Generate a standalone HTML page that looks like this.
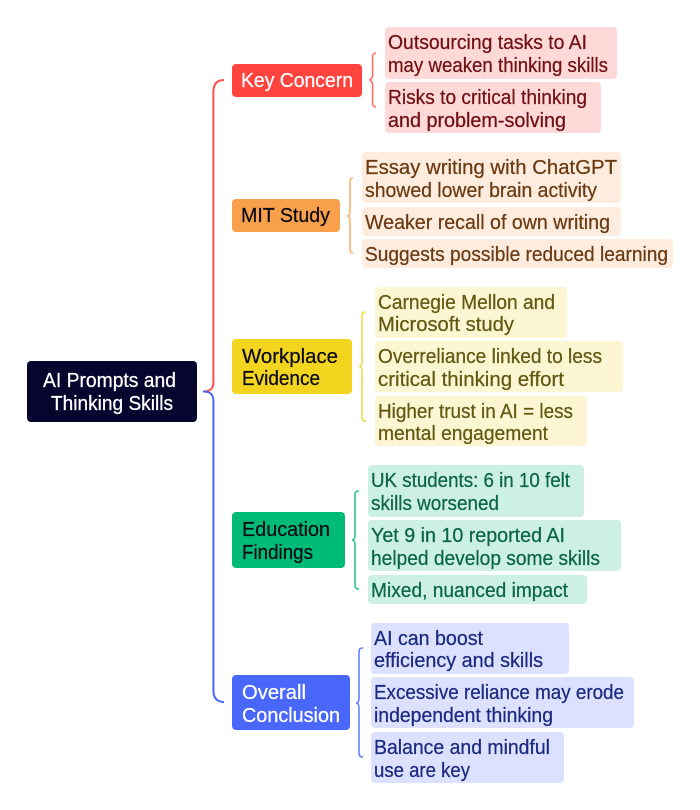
<!DOCTYPE html>
<html>
<head>
<meta charset="utf-8">
<style>
html,body{margin:0;padding:0;background:#fff;width:700px;height:810px;overflow:hidden}
svg{display:block}
text{font-family:"Liberation Sans",sans-serif;font-size:20px;stroke-width:.25px;paint-order:stroke}
.w{fill:#fff;stroke:#fff}.k{fill:#0a0a14;stroke:#0a0a14}
.r{fill:#6f1013;stroke:#6f1013}.o{fill:#6b3a12;stroke:#6b3a12}.y{fill:#635812;stroke:#635812}.g{fill:#0c6448;stroke:#0c6448}.b{fill:#1b2a80;stroke:#1b2a80}
path{fill:none;stroke-width:1.6}
path.t{stroke-width:2}
</style>
</head>
<body>
<svg width="700" height="810" viewBox="0 0 700 810" xmlns="http://www.w3.org/2000/svg">
<rect width="700" height="810" fill="#fff"/>

<!-- trunk connectors -->
<path class="t" d="M203 391.5 C210 391.5 213.4 389 213.4 382 V92 C213.4 84 217 80 224 80" stroke="#ff4f49"/>
<path class="t" d="M203 391.5 C210 391.5 213.4 394 213.4 401 V690 C213.4 698 217 702 224 702" stroke="#4a67fb"/>

<!-- brackets -->
<path d="M376 53 C373.500 53 372.600 54 372.600 57 V75 C372.600 78 371 80 369 80 C371 80 372.600 82 372.600 85 V103 C372.600 106 373.500 107 376 107" stroke="#ff6e69"/>
<path d="M353 178 C351 178 350 179 350 182 V211 C350 214 349 216 347 216 C349 216 350 218 350 221 V249 C350 252 351 253 353 253" stroke="#fab06c"/>
<path d="M366 312 C363 312 362 313 362 316 V361 C362 364 361 366 359 366 C361 366 362 368 362 371 V417 C362 420 363 421 366 421" stroke="#f5da48"/>
<path d="M359 491 C356 491 355 492 355 495 V535 C355 538 354 540 352 540 C354 540 355 542 355 545 V585 C355 588 356 589 359 589" stroke="#30c693"/>
<path d="M363 648 C360 648 359 649 359 652 V698 C359 701 358 703 356 703 C358 703 359 705 359 708 V753 C359 756 360 757 363 757" stroke="#6880fb"/>

<!-- root -->
<rect x="27" y="361" width="170" height="61" rx="4" fill="#05052e"/>
<text class="w" x="43" y="387" textLength="133" lengthAdjust="spacingAndGlyphs">AI Prompts and</text>
<text class="w" x="51" y="410" textLength="122" lengthAdjust="spacingAndGlyphs">Thinking Skills</text>

<!-- branches -->
<rect x="232" y="64" width="130" height="33" rx="4" fill="#ff443d"/>
<text class="w" x="241" y="87" textLength="112" lengthAdjust="spacingAndGlyphs">Key Concern</text>

<rect x="232" y="199" width="108" height="33" rx="4" fill="#f9a04c"/>
<text class="k" x="241" y="222" textLength="89" lengthAdjust="spacingAndGlyphs">MIT Study</text>

<rect x="232" y="339" width="120" height="55" rx="4" fill="#f3d41f"/>
<text class="k" x="242" y="363" textLength="96" lengthAdjust="spacingAndGlyphs">Workplace</text>
<text class="k" x="242" y="385" textLength="78" lengthAdjust="spacingAndGlyphs">Evidence</text>

<rect x="232" y="512" width="113" height="56" rx="4" fill="#00bb77"/>
<text class="k" x="242" y="536" textLength="88" lengthAdjust="spacingAndGlyphs">Education</text>
<text class="k" x="242" y="559" textLength="71" lengthAdjust="spacingAndGlyphs">Findings</text>

<rect x="232" y="675" width="118" height="55" rx="4" fill="#4a67fb"/>
<text class="w" x="242" y="699" textLength="64" lengthAdjust="spacingAndGlyphs">Overall</text>
<text class="w" x="242" y="722" textLength="98" lengthAdjust="spacingAndGlyphs">Conclusion</text>

<!-- red leaves -->
<rect x="385" y="27" width="232" height="52" rx="4" fill="#ffd9d8"/>
<text class="r" x="388" y="49" textLength="199" lengthAdjust="spacingAndGlyphs">Outsourcing tasks to AI</text>
<text class="r" x="388" y="72" textLength="220" lengthAdjust="spacingAndGlyphs">may weaken thinking skills</text>
<rect x="385" y="82" width="216" height="51" rx="4" fill="#ffd9d8"/>
<text class="r" x="388" y="104" textLength="199" lengthAdjust="spacingAndGlyphs">Risks to critical thinking</text>
<text class="r" x="388" y="127" textLength="178" lengthAdjust="spacingAndGlyphs">and problem-solving</text>

<!-- orange leaves -->
<rect x="362" y="152" width="259" height="51" rx="4" fill="#feedde"/>
<text class="o" x="365" y="174" textLength="252" lengthAdjust="spacingAndGlyphs">Essay writing with ChatGPT</text>
<text class="o" x="365" y="197" textLength="232" lengthAdjust="spacingAndGlyphs">showed lower brain activity</text>
<rect x="362" y="207" width="259" height="29" rx="4" fill="#feedde"/>
<text class="o" x="365" y="229" textLength="245" lengthAdjust="spacingAndGlyphs">Weaker recall of own writing</text>
<rect x="362" y="239" width="311" height="29" rx="4" fill="#feedde"/>
<text class="o" x="365" y="261" textLength="303" lengthAdjust="spacingAndGlyphs">Suggests possible reduced learning</text>

<!-- yellow leaves -->
<rect x="375" y="287" width="192" height="51" rx="4" fill="#fcf6d2"/>
<text class="y" x="378" y="309" textLength="177" lengthAdjust="spacingAndGlyphs">Carnegie Mellon and</text>
<text class="y" x="378" y="331" textLength="136" lengthAdjust="spacingAndGlyphs">Microsoft study</text>
<rect x="375" y="341" width="248" height="51" rx="4" fill="#fcf6d2"/>
<text class="y" x="378" y="363" textLength="224" lengthAdjust="spacingAndGlyphs">Overreliance linked to less</text>
<text class="y" x="378" y="386" textLength="186" lengthAdjust="spacingAndGlyphs">critical thinking effort</text>
<rect x="375" y="396" width="212" height="50" rx="4" fill="#fcf6d2"/>
<text class="y" x="378" y="418" textLength="195" lengthAdjust="spacingAndGlyphs">Higher trust in AI = less</text>
<text class="y" x="378" y="440" textLength="170" lengthAdjust="spacingAndGlyphs">mental engagement</text>

<!-- green leaves -->
<rect x="368" y="465" width="216" height="52" rx="4" fill="#ccf1e4"/>
<text class="g" x="371" y="487" textLength="199" lengthAdjust="spacingAndGlyphs">UK students: 6 in 10 felt</text>
<text class="g" x="371" y="510" textLength="128" lengthAdjust="spacingAndGlyphs">skills worsened</text>
<rect x="368" y="520" width="253" height="51" rx="4" fill="#ccf1e4"/>
<text class="g" x="371" y="542" textLength="194" lengthAdjust="spacingAndGlyphs">Yet 9 in 10 reported AI</text>
<text class="g" x="371" y="565" textLength="229" lengthAdjust="spacingAndGlyphs">helped develop some skills</text>
<rect x="368" y="575" width="219" height="29" rx="4" fill="#ccf1e4"/>
<text class="g" x="371" y="597" textLength="197" lengthAdjust="spacingAndGlyphs">Mixed, nuanced impact</text>

<!-- blue leaves -->
<rect x="371" y="623" width="198" height="51" rx="4" fill="#dbe1fe"/>
<text class="b" x="374" y="645" textLength="109" lengthAdjust="spacingAndGlyphs">AI can boost</text>
<text class="b" x="374" y="667" textLength="169" lengthAdjust="spacingAndGlyphs">efficiency and skills</text>
<rect x="371" y="677" width="263" height="51" rx="4" fill="#dbe1fe"/>
<text class="b" x="374" y="699" textLength="250" lengthAdjust="spacingAndGlyphs">Excessive reliance may erode</text>
<text class="b" x="374" y="722" textLength="179" lengthAdjust="spacingAndGlyphs">independent thinking</text>
<rect x="371" y="732" width="193" height="51" rx="4" fill="#dbe1fe"/>
<text class="b" x="374" y="754" textLength="176" lengthAdjust="spacingAndGlyphs">Balance and mindful</text>
<text class="b" x="374" y="777" textLength="96" lengthAdjust="spacingAndGlyphs">use are key</text>
</svg>
</body>
</html>
